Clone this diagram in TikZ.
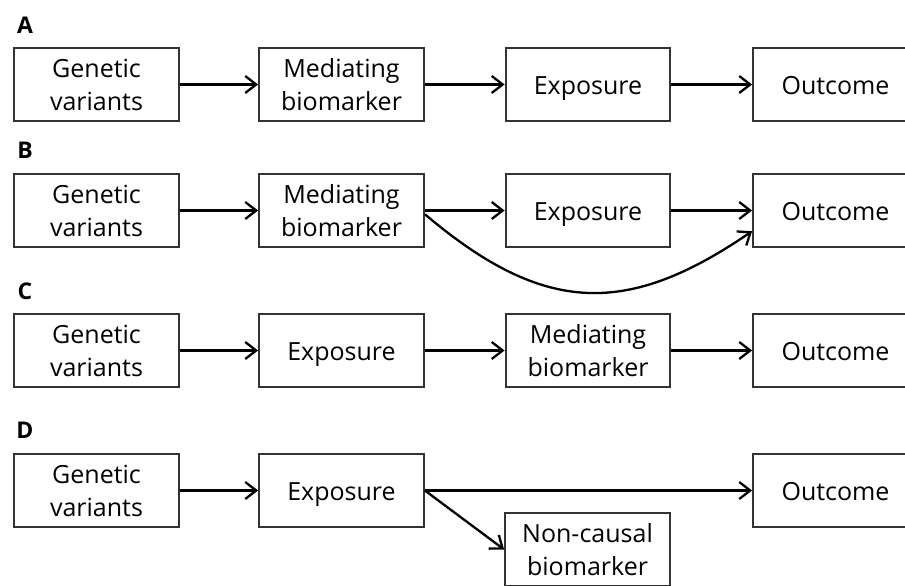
\documentclass[tikz,border=0pt]{standalone}
\usepackage{fontspec}
\setmainfont{Open Sans}
\usetikzlibrary{arrows.meta,calc}
\definecolor{boxline}{HTML}{333333}
\begin{document}
\begin{tikzpicture}[x=1pt,y=-1pt,
  stage/.style={draw=boxline,line width=2.3pt,minimum width=164.5pt,minimum height=73pt,
    inner sep=0pt,align=center,font=\fontsize{25}{33}\selectfont},
  oneline/.style={stage,text height=19pt,text depth=0pt},
  panel/.style={font=\fontsize{23}{25}\selectfont\bfseries,anchor=center},
  conn/.style={line width=2.3pt,black,-{Straight Barb[length=11pt,width=17pt,line width=2.3pt]}}
]
\useasboundingbox (0,0) rectangle (905,586);
\clip (0,0) rectangle (905,586);
% Panel A
\node[panel] (la) at (25,25) {A};
\node[stage] (ag) at (96.5,84.5) {Genetic\\variants};
\node[stage] (am) at (341.5,84.5) {Mediating\\biomarker};
\node[oneline] (ae) at (588,84.5) {Exposure};
\node[oneline] (ao) at (835.5,84.5) {Outcome};
\draw[conn] (ag) -- (am);
\draw[conn] (am) -- (ae);
\draw[conn] (ae) -- (ao);
% Panel B
\node[panel] (lb) at (25,150) {B};
\node[stage] (bg) at (96.5,210.5) {Genetic\\variants};
\node[stage] (bm) at (341.5,210.5) {Mediating\\biomarker};
\node[oneline] (be) at (588,210.5) {Exposure};
\node[oneline] (bo) at (835.5,210.5) {Outcome};
\draw[conn] (bg) -- (bm);
\draw[conn] (bm) -- (be);
\draw[conn] (be) -- (bo);
\draw[conn] ($(bm.east)!0.1!(bm.south east)$) .. controls (545,316) and (628,316) .. ($(bo.west)!0.55!(bo.south west)$);
% Panel C
\node[panel] (lc) at (25,291) {C};
\node[stage] (cg) at (96.5,350.5) {Genetic\\variants};
\node[oneline] (ce) at (341.5,350.5) {Exposure};
\node[stage] (cm) at (588,350.5) {Mediating\\biomarker};
\node[oneline] (co) at (835.5,350.5) {Outcome};
\draw[conn] (cg) -- (ce);
\draw[conn] (ce) -- (cm);
\draw[conn] (cm) -- (co);
% Panel D
\node[panel] (ld) at (25,430) {D};
\node[stage] (dg) at (96.5,490.5) {Genetic\\variants};
\node[oneline] (de) at (341.5,490.5) {Exposure};
\node[stage] (dn) at (587.5,549.5) {Non-causal\\biomarker};
\node[oneline] (do) at (835.5,490.5) {Outcome};
\draw[conn] (dg) -- (de);
\draw[conn] (de.east) -- (do.west);
\draw[conn] (de.east) -- (dn.west);
\end{tikzpicture}
\end{document}
